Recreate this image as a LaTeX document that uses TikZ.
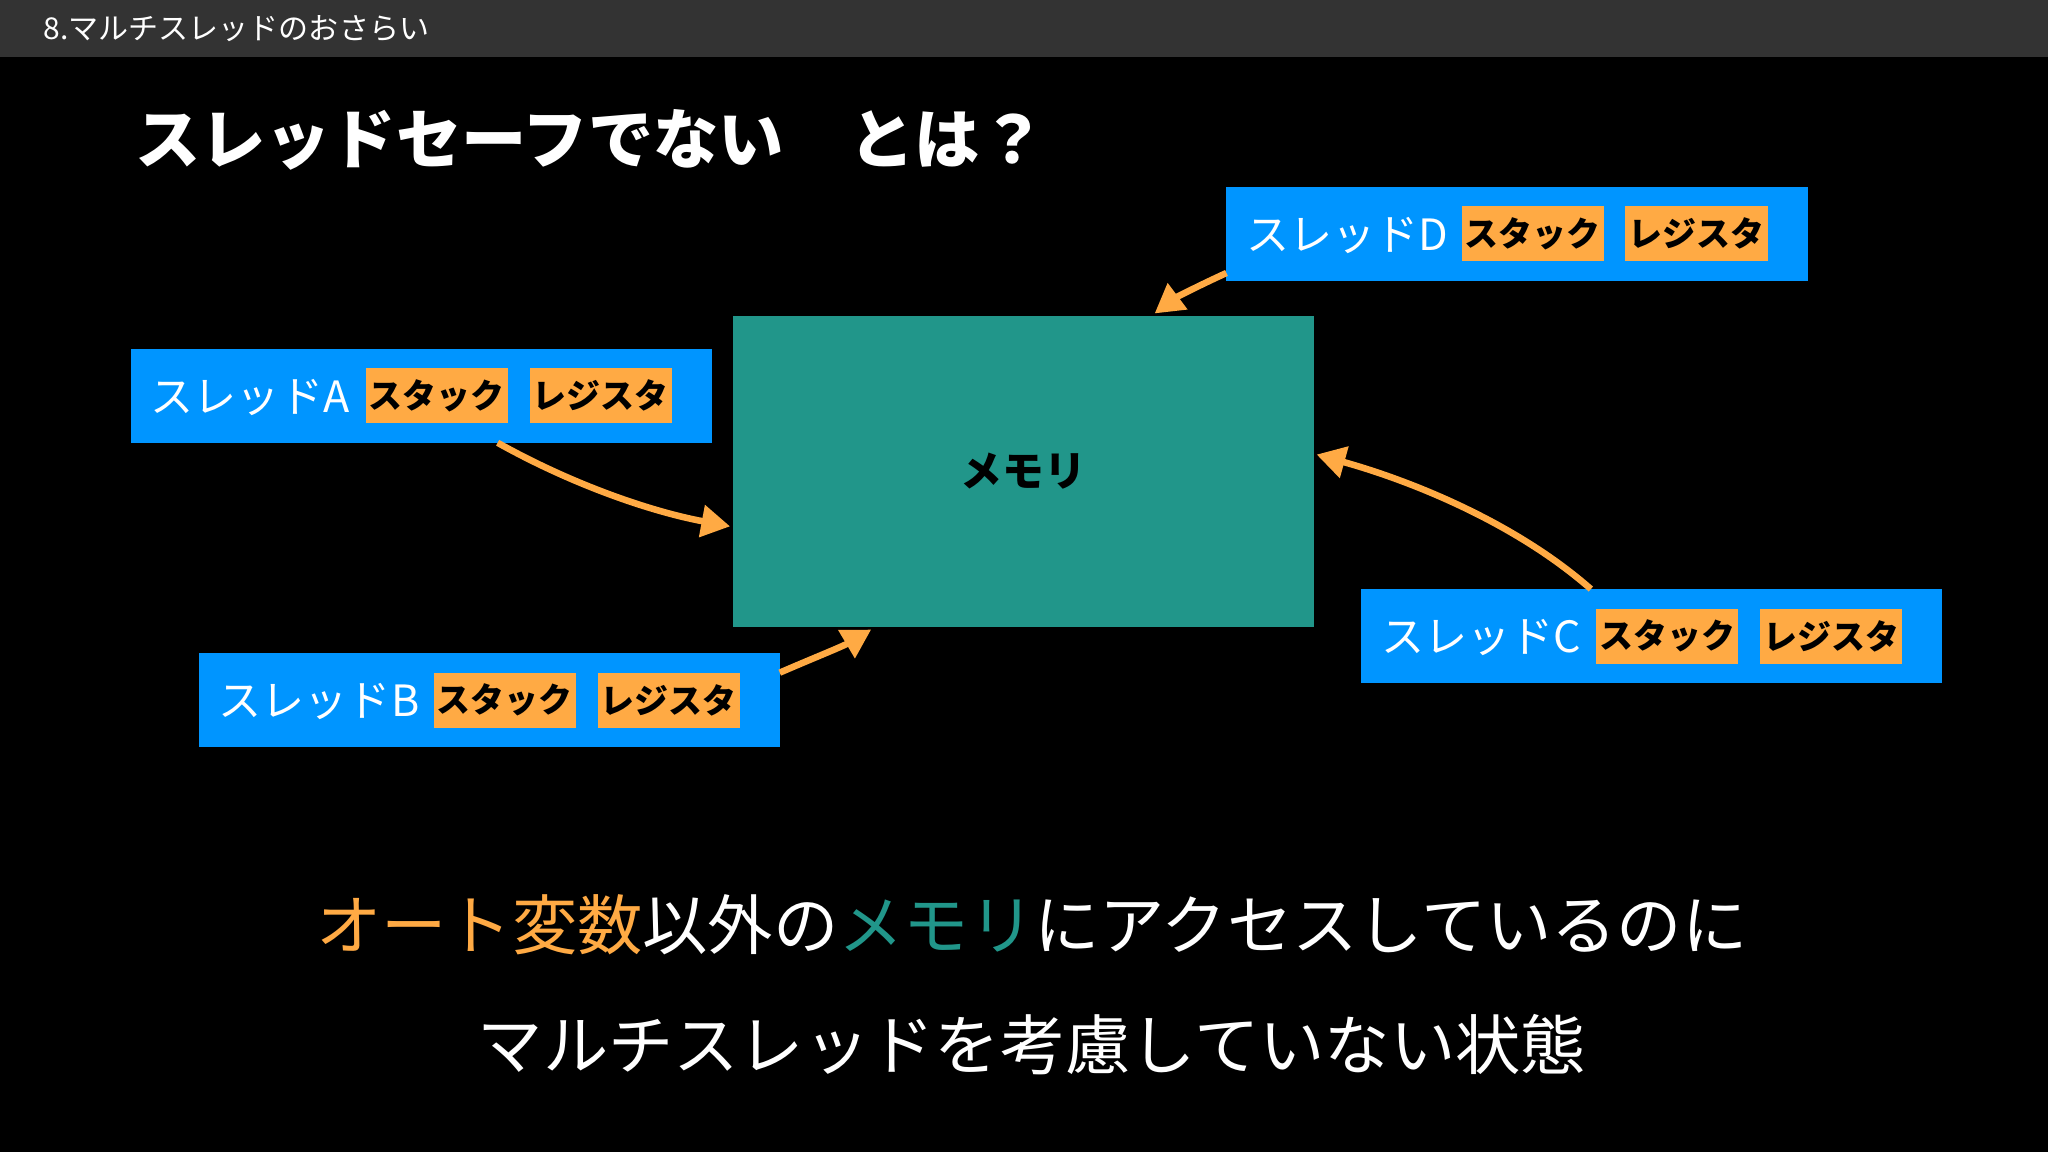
\documentclass[tikz,border=0pt]{standalone}
\usepackage{fontspec}
\setmainfont{Noto Sans CJK JP}
\newfontfamily\jpb{Noto Sans CJK JP}[BoldFont={* Bold}]
\usetikzlibrary{arrows.meta}
\definecolor{tblue}{HTML}{0095FF}
\definecolor{torange}{HTML}{FFAA44}
\definecolor{tteal}{HTML}{21968A}
\definecolor{tbar}{HTML}{333333}
\begin{document}
\begin{tikzpicture}[x=0.5pt,y=-0.5pt,
  thr/.style={fill=tblue,draw=none},
  tag/.style={fill=torange,inner sep=0pt,minimum width=54.5pt,minimum height=21pt,font=\fontsize{13}{13}\selectfont\bfseries,text=black},
  lbl/.style={anchor=west,text=white,font=\fontsize{16.5}{16}\selectfont,inner sep=0pt},
  arr/.style={draw=torange,line width=2.5pt,-{Triangle[length=11pt,width=12pt]}}]
\useasboundingbox (0,0) rectangle (1568,882);
\fill[black] (0,0) rectangle (1568,882);
\fill[tbar] (0,0) rectangle (1568,44);
\node[anchor=west,text=white,font=\fontsize{11.5}{12}\selectfont,inner sep=0pt] (hdr) at (33,22) {8.マルチスレッドのおさらい};
\node[anchor=west,text=white,font=\fontsize{25}{26}\selectfont\bfseries,inner sep=0pt] (title) at (103,107) {スレッドセーフでない　とは？};
% memory
\node[fill=tteal,minimum width=222.5pt,minimum height=119pt,inner sep=0pt,font=\fontsize{16}{16}\selectfont\bfseries,text=black] (mem) at (783.5,361) {メモリ};
% threads
\newcommand{\thread}[5]{% name, x, y, label, id
  \fill[thr] (#2,#3) rectangle ++(445,72);
  \node[lbl] (#5l) at ($(#2,#3)+(15,37)$) {#4};
  \node[tag] (#5s) at ($(#2,#3)+(234.5,36)$) {スタック};
  \node[tag] (#5r) at ($(#2,#3)+(360,36)$) {レジスタ};
}
\usetikzlibrary{calc}
\thread{}{939}{143}{スレッドD}{d}
\thread{}{100}{267}{スレッドA}{a}
\thread{}{152}{500}{スレッドB}{b}
\thread{}{1042}{451}{スレッドC}{c}
\coordinate (a0) at (381,339); \coordinate (a1) at (559,403);
\coordinate (b0) at (597,515); \coordinate (b1) at (667,482);
\coordinate (c0) at (1218,451); \coordinate (c1) at (1008,348);
\coordinate (d0) at (939,209); \coordinate (d1) at (884,240);
\draw[arr] (a0) .. controls (440,372) and (500,392) .. (a1);
\draw[arr] (b0) .. controls (620,505) and (645,495) .. (b1);
\draw[arr] (c0) .. controls (1160,400) and (1080,368) .. (c1);
\draw[arr] (d0) .. controls (915,220) and (900,228) .. (d1);
\node[text=white,font=\fontsize{25}{26}\selectfont,inner sep=0pt] (l1) at (790,708) {\textcolor{torange}{オート変数}以外の\textcolor{tteal}{メモリ}にアクセスしているのに};
\node[text=white,font=\fontsize{25}{26}\selectfont,inner sep=0pt] (l2) at (790,800) {マルチスレッドを考慮していない状態};
\end{tikzpicture}
\end{document}
